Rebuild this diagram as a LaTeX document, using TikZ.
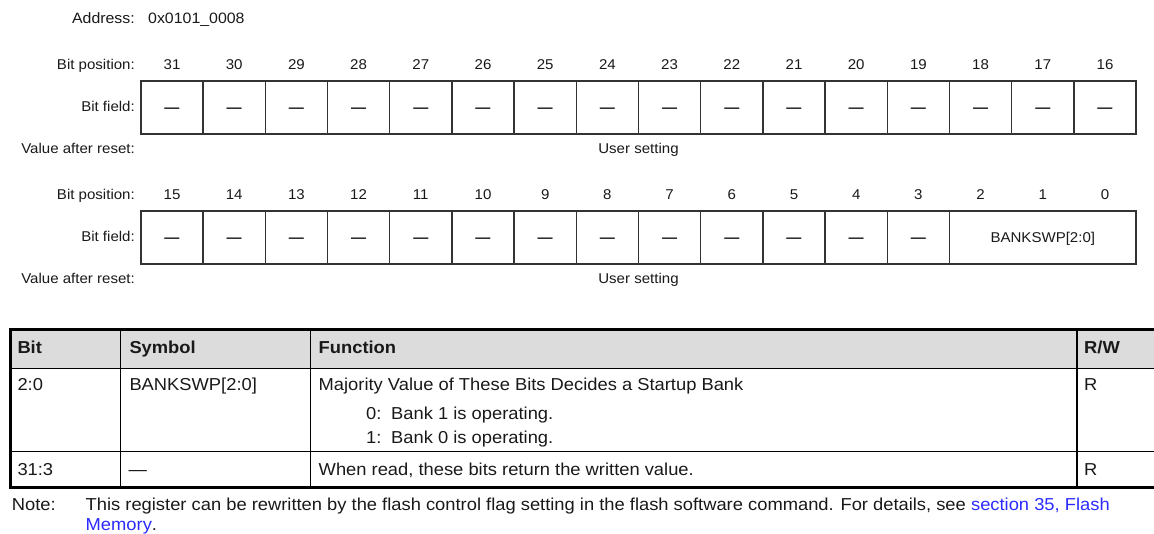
\documentclass[tikz,border=0pt]{standalone}
\usepackage{fontspec}
\setmainfont{Liberation Sans}[FakeStretch=1.06]
\usetikzlibrary{positioning}

\definecolor{hdrgray}{HTML}{DCDCDC}
\definecolor{linkblue}{HTML}{2B2BFF}
\definecolor{regline}{HTML}{333333}

\newcommand{\CellW}{62.2}
\newcommand{\CellH}{53}
\newcommand{\RegX}{172}
\newcommand{\LabX}{135}
\newcommand{\RowA}{107.3}
\newcommand{\RowB}{237.3}
\newcommand{\TabL}{10.5}
\newcommand{\TabR}{1154}
\newcommand{\ColA}{120.5}
\newcommand{\ColB}{310.5}
\newcommand{\ColC}{1077}
\newcommand{\TabT}{329.7}
\newcommand{\TabH}{368.5}
\newcommand{\TabM}{451.5}
\newcommand{\TabB}{487.5}

\begin{document}
\begin{tikzpicture}[x=1pt,y=-1pt,
    regfont/.style={font=\fontsize{14.2}{17}\selectfont, text=black!90},
    tabfont/.style={font=\fontsize{17.3}{21}\selectfont, text=black!90},
    lab/.style={regfont, anchor=base east, inner sep=0pt},
    bitnum/.style={regfont, anchor=base, inner sep=0pt},
    bitcell/.style={draw=regline, line width=1.5pt, minimum width=\CellW pt,
        minimum height=\CellH pt, inner sep=0pt, text height=10.2pt,
        text depth=0pt, regfont},
    cell/.style={tabfont, anchor=base west, inner sep=0pt},
    hcell/.style={cell, font=\fontsize{17.3}{21}\selectfont\bfseries}]

    \useasboundingbox (0,0) rectangle (1154,534);

    % address line
    \node[lab, font=\fontsize{15}{18}\selectfont] (addr) at (\LabX,24) {Address:};
    \node[lab, font=\fontsize{15}{18}\selectfont, anchor=base west] (addrval) at (148,24) {0x0101\_0008};

    % bits 31..16
    \node[lab] (posA) at (\LabX,70) {Bit position:};
    \node[lab] (fldA) at (\LabX,111.7) {Bit field:};
    \node[lab] (rstA) at (\LabX,153.5) {Value after reset:};
    \foreach \b in {31,...,16} {
        \node[bitcell] (hf\b) at ({\RegX+\CellW*(31-\b)},\RowA) {\bfseries —};
        \node[bitnum] (hp\b) at ({\RegX+\CellW*(31-\b)},70) {\b};
    }
    \node[bitnum] (usrA) at (638.5,154) {User setting};

    % bits 15..0
    \node[lab] (posB) at (\LabX,200) {Bit position:};
    \node[lab] (fldB) at (\LabX,241.7) {Bit field:};
    \node[lab] (rstB) at (\LabX,283.5) {Value after reset:};
    \foreach \b in {15,...,0} {
        \node[bitnum] (lp\b) at ({\RegX+\CellW*(15-\b)},200) {\b};
    }
    \foreach \b in {15,...,3} {
        \node[bitcell] (lf\b) at ({\RegX+\CellW*(15-\b)},\RowB) {\bfseries —};
    }
    \node[bitcell, minimum width=3*\CellW pt] (bankswp) at ({\RegX+\CellW*14},\RowB) {BANKSWP[2:0]};
    \node[bitnum] (usrB) at (638.5,284) {User setting};

    % table
    \fill[hdrgray] (\TabL,\TabT) rectangle (\TabR,\TabH);
    \draw[line width=1.3pt] (\TabL,\TabH) -- (\TabR,\TabH);
    \draw[line width=1.3pt] (\TabL,\TabM) -- (\TabR,\TabM);
    \foreach \c in {\ColA,\ColB,\ColC}
        \draw[line width=1.3pt] (\c,\TabT) -- (\c,\TabB);
    \draw[line width=3.3pt] (\TabR,\TabT) -- (\TabL,\TabT) -- (\TabL,\TabB) -- (\TabR,\TabB);

    \node[hcell] (hbit) at (17.3,354) {Bit};
    \node[hcell] (hsym) at (129.3,354) {Symbol};
    \node[hcell] (hfun) at (318.5,354) {Function};
    \node[hcell] (hrw) at (1084,354) {R/W};

    \node[cell] (bitA) at (17.3,390.7) {2:0};
    \node[cell] (symA) at (129.3,390.7) {BANKSWP[2:0]};
    \node[cell] (funA) at (318.5,390.7) {Majority Value of These Bits Decides a Startup Bank};
    \node[cell] (optA) at (366,419.5) {0:};
    \node[cell] (txtA) at (391,419.5) {Bank 1 is operating.};
    \node[cell] (optB) at (366,443) {1:};
    \node[cell] (txtB) at (391,443) {Bank 0 is operating.};
    \node[cell] (rwA) at (1084,390.7) {R};

    \node[cell] (bitB) at (17.3,475) {31:3};
    \node[cell] (symB) at (128.5,475) {—};
    \node[cell] (funB) at (318.5,475) {When read, these bits return the written value.};
    \node[cell] (rwB) at (1084,475) {R};

    % note
    \node[cell] (note) at (11.7,510.5) {Note:};
    \node[cell] (noteA) at (85.5,510.5) {This register can be rewritten by the flash control flag setting in the flash software command. For details, see \textcolor{linkblue}{section 35, Flash}};
    \node[cell] (noteB) at (85.5,530.5) {\textcolor{linkblue}{Memory}.};
\end{tikzpicture}
\end{document}
